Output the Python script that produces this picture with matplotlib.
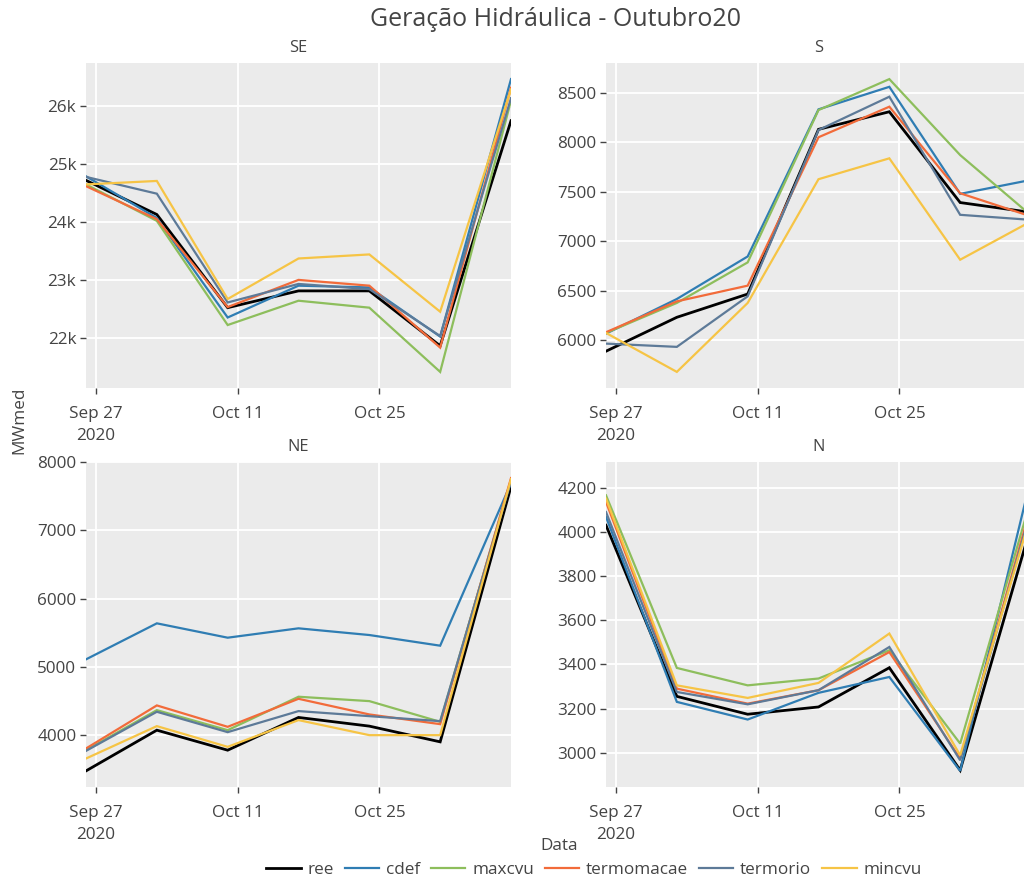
import matplotlib
matplotlib.use('Agg')
import matplotlib.pyplot as plt
import matplotlib.dates as mdates
from matplotlib.ticker import FuncFormatter, FixedLocator
import pandas as pd

plt.rcParams['font.family'] = ['Open Sans', 'DejaVu Sans']

dates = ['2020-09-26', '2020-10-03', '2020-10-10', '2020-10-17',
         '2020-10-24', '2020-10-31', '2020-11-07']
series = ['ree', 'cdef', 'maxcvu', 'termomacae', 'termorio', 'mincvu']
colors = ['#000000', '#2F7DB3', '#8DBE5C', '#F26B3A', '#5D7A98', '#F6C445']

se_ree = [24720, 24130, 22520, 22810, 22810, 21860, 25750]
se_cdef = [24790, 24070, 22350, 22900, 22870, 22020, 26470]
se_maxcvu = [24650, 24020, 22220, 22640, 22520, 21410, 26100]
se_termomacae = [24620, 24050, 22530, 23000, 22900, 21830, 26320]
se_termorio = [24780, 24490, 22610, 22930, 22840, 22030, 26140]
se_mincvu = [24650, 24710, 22670, 23370, 23440, 22450, 26290]

s_ree = [5887, 6230, 6465, 8130, 8308, 7390, 7290]
s_cdef = [6065, 6415, 6845, 8332, 8560, 7478, 7619]
s_maxcvu = [6072, 6375, 6785, 8325, 8638, 7870, 7260]
s_termomacae = [6079, 6391, 6550, 8050, 8359, 7484, 7250]
s_termorio = [5964, 5931, 6442, 8123, 8460, 7266, 7215]
s_mincvu = [6072, 5678, 6375, 7626, 7837, 6812, 7200]

ne_ree = [3482, 4078, 3785, 4264, 4137, 3907, 7643]
ne_cdef = [5114, 5641, 5431, 5568, 5470, 5314, 7692]
ne_maxcvu = [3785, 4371, 4078, 4567, 4503, 4200, 7741]
ne_termomacae = [3810, 4440, 4127, 4537, 4308, 4166, 7766]
ne_termorio = [3775, 4347, 4049, 4357, 4283, 4210, 7717]
ne_mincvu = [3663, 4137, 3834, 4225, 4005, 4005, 7751]

n_ree = [4031, 3255, 3174, 3207, 3385, 2920, 4028]
n_cdef = [4069, 3230, 3150, 3271, 3343, 2917, 4245]
n_maxcvu = [4167, 3384, 3305, 3336, 3464, 3041, 4149]
n_termomacae = [4137, 3290, 3222, 3283, 3456, 2973, 4117]
n_termorio = [4091, 3275, 3219, 3283, 3479, 2965, 4100]
n_mincvu = [4152, 3305, 3248, 3316, 3540, 2988, 4080]

regions = ['SE', 'S', 'NE', 'N']
region_data = {
    'SE': [se_ree, se_cdef, se_maxcvu, se_termomacae, se_termorio, se_mincvu],
    'S': [s_ree, s_cdef, s_maxcvu, s_termomacae, s_termorio, s_mincvu],
    'NE': [ne_ree, ne_cdef, ne_maxcvu, ne_termomacae, ne_termorio, ne_mincvu],
    'N': [n_ree, n_cdef, n_maxcvu, n_termomacae, n_termorio, n_mincvu],
}
y_ticks = {
    'SE': [22000, 23000, 24000, 25000, 26000],
    'S': [6000, 6500, 7000, 7500, 8000, 8500],
    'NE': [4000, 5000, 6000, 7000, 8000],
    'N': [3000, 3200, 3400, 3600, 3800, 4000, 4200],
}
x_tick_dates = ['2020-09-27', '2020-10-11', '2020-10-25']
x_tick_labels = ['Sep 27\n2020', 'Oct 11', 'Oct 25']

W, H = 1024, 884
fig = plt.figure(figsize=(W / 100, H / 100), dpi=100)

# pixel boxes (left, top, right, bottom)
boxes = {
    'SE': (86, 63, 511, 388),
    'S': (606, 63, 1031, 388),
    'NE': (86, 462, 511, 787),
    'N': (606, 462, 1031, 787),
}

x = pd.to_datetime(dates)
tick_color = '#444444'
handles = []
for reg in regions:
    l, t, r, b = boxes[reg]
    ax = fig.add_axes([l / W, 1 - b / H, (r - l) / W, (b - t) / H])
    ax.set_facecolor('#EBEBEB')
    for s in ax.spines.values():
        s.set_visible(False)
    vals_all = []
    for name, col, vals in zip(series, colors, region_data[reg]):
        lw = 2.0 if name == 'ree' else 1.6
        h, = ax.plot(x, vals, color=col, lw=lw, label=name, solid_joinstyle='miter')
        vals_all += vals
        if reg == 'SE':
            handles.append(h)
    lo, hi = min(vals_all), max(vals_all)
    pad = (hi - lo) * 0.055
    ax.set_ylim(lo - pad, hi + pad)
    ax.set_xlim(x[0], x[-1])
    ax.yaxis.set_major_locator(FixedLocator(y_ticks[reg]))
    if reg == 'SE':
        ax.yaxis.set_major_formatter(FuncFormatter(lambda v, p: f'{int(round(v / 1000))}k'))
    else:
        ax.yaxis.set_major_formatter(FuncFormatter(lambda v, p: f'{int(v)}'))
    xt = mdates.date2num(pd.to_datetime(x_tick_dates))
    ax.set_xticks(xt)
    ax.set_xticklabels(x_tick_labels)
    ax.grid(True, color='white', lw=1.3)
    ax.set_axisbelow(True)
    ax.tick_params(axis='both', colors=tick_color, labelsize=12.3, length=4.5,
                   width=1, pad=2.5)
    ax.tick_params(axis='x', pad=8.5)
    for lab in ax.get_xticklabels():
        lab.set_linespacing(1.5)
        lab.set_multialignment('center')
    fig.text(((l + r) / 2) / W, 1 - (t - 15) / H, reg, ha='center', va='center',
             fontsize=11.8, color=tick_color)

fig.text(0.5 + 43 / W, 1 - 20 / H, 'Geração Hidráulica - Outubro20', ha='center',
         va='center', fontsize=18, color=tick_color)
fig.text(19 / W, 1 - 420 / H, 'MWmed', rotation=90, ha='center', va='center',
         fontsize=12.3, color=tick_color)
fig.text(559 / W, 1 - 846 / H, 'Data', ha='center', va='center',
         fontsize=12.3, color=tick_color)
leg = fig.legend(handles, series, loc='center', bbox_to_anchor=(594 / W, 1 - 870 / H),
                 ncol=6, frameon=False, handlelength=2.0, columnspacing=0.65,
                 handletextpad=0.4, fontsize=12.3, borderpad=0)
for txt in leg.get_texts():
    txt.set_color(tick_color)

fig.savefig('out.png', dpi=100)
